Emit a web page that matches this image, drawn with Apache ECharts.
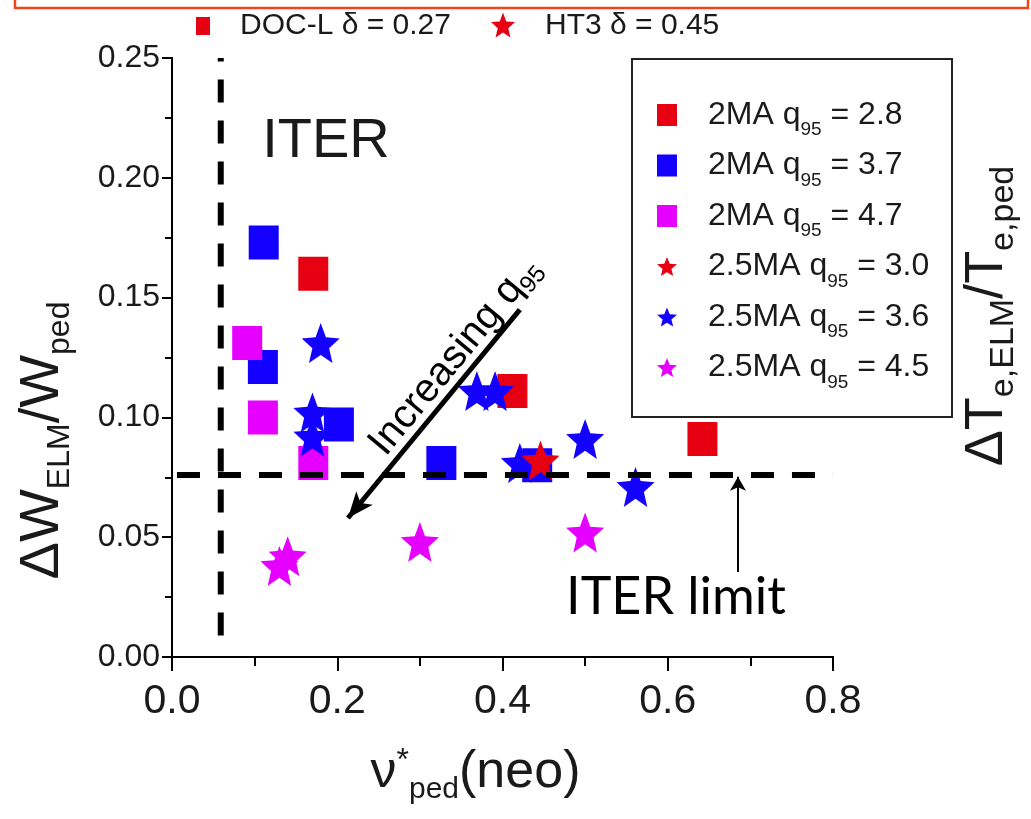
<!DOCTYPE html>
<html>
<head>
<meta charset="utf-8">
<script src="https://cdn.jsdelivr.net/npm/echarts@6/dist/echarts.min.js"></script>
<style>
  html, body { margin: 0; padding: 0; background: #fff; }
  #chart { width: 1031px; height: 819px; }
</style>
</head>
<body>
<div id="chart"></div>
<script>
// ELM energy loss vs pedestal collisionality, grouped by plasma current and q95
const seriesNames = ['2MA q95 = 2.8', '2MA q95 = 3.7', '2MA q95 = 4.7',
                     '2.5MA q95 = 3.0', '2.5MA q95 = 3.6', '2.5MA q95 = 4.5'];
const legendPrefix = ['2MA q', '2MA q', '2MA q', '2.5MA q', '2.5MA q', '2.5MA q'];
const legendValue = ['2.8', '3.7', '4.7', '3.0', '3.6', '4.5'];
const seriesColors = ['#e60012', '#1400ff', '#e600ff', '#e60012', '#1400ff', '#e600ff'];

// [nu*_ped(neo), dW_ELM/W_ped]
const ma2q28 = [[0.171, 0.160], [0.412, 0.111], [0.642, 0.091]];
const ma2q37 = [[0.111, 0.173], [0.110, 0.121], [0.202, 0.097], [0.326, 0.081], [0.442, 0.080]];
const ma2q47 = [[0.091, 0.131], [0.110, 0.100], [0.171, 0.081]];
const ma25q30 = [[0.446, 0.082]];
const ma25q36 = [[0.180, 0.131], [0.170, 0.102], [0.170, 0.092], [0.369, 0.111], [0.391, 0.111],
                 [0.421, 0.081], [0.500, 0.091], [0.561, 0.071]];
const ma25q45 = [[0.130, 0.038], [0.140, 0.042], [0.300, 0.048], [0.500, 0.052]];
const seriesData = [ma2q28, ma2q37, ma2q47, ma25q30, ma25q36, ma25q45];

// ITER limits
const nuLimit = 0.059;
const elmLimit = 0.076;
const nuLimitLine = [[nuLimit, 0.009], [nuLimit, 0.25]];
const elmLimitLine = [[0.006, elmLimit], [0.8, elmLimit]];
// "Increasing q95" arrow and ITER-limit pointer
const q95Arrow = [[0.421, 0.145], [0.213, 0.058]];
const limitPointer = [[0.685, 0.0355], [0.685, 0.0752]];

const xTicks = { min: 0, max: 0.8, step: 0.2 };
const yTicks = { min: 0, max: 0.25, step: 0.05 };

const FONT = "'Liberation Sans', Arial, sans-serif";
const TEXT = '#1a1a1a';

// five-point star outline in a 100x90 box
const STAR_PTS = [[50, 0], [62.93, 32.2], [97.55, 34.55], [70.92, 56.8], [79.39, 90.45],
                  [50, 72], [20.61, 90.45], [29.08, 56.8], [2.45, 34.55], [37.07, 32.2]];
const STAR = 'path://M' + STAR_PTS.map(p => p.join(',')).join('L') + 'Z';
function starAt(cx, cy, w, h) {
  return STAR_PTS.map(p => [cx + (p[0] - 50) / 95.1 * w, cy + (p[1] - 45.2) / 90.45 * h]);
}

const chart = echarts.init(document.getElementById('chart'), null, { renderer: 'canvas' });

const pointSeries = seriesNames.map((name, i) => {
  const isStar = i >= 3;
  return {
    name: name,
    type: 'scatter',
    xAxisIndex: 0,
    yAxisIndex: 0,
    data: seriesData[i],
    symbol: isStar ? STAR : 'rect',
    symbolSize: isStar ? [38, 40] : [30, 34],
    legendIcon: isStar ? STAR : 'rect',
    itemStyle: { color: seriesColors[i], opacity: 1 },
    z: isStar ? (i === 3 ? 5 : 4) : 3,
    emphasis: { disabled: true },
    silent: true
  };
});

const dashStyle = { color: '#000', width: 6, type: [23, 18] };

const option = {
  animation: false,
  backgroundColor: '#fff',
  grid: { left: 172, right: 198, top: 58, bottom: 162, containLabel: false, outerBoundsMode: 'none' },
  xAxis: [{
    type: 'value',
    position: 'bottom',
    min: xTicks.min, max: xTicks.max, interval: xTicks.step,
    axisLine: { show: true, lineStyle: { color: '#000', width: 2 } },
    axisTick: { show: true, inside: false, length: 14, lineStyle: { color: '#000', width: 2 } },
    minorTick: { show: true, splitNumber: 2, length: 9, lineStyle: { color: '#000', width: 2 } },
    splitLine: { show: false },
    axisLabel: { fontSize: 41, fontFamily: FONT, color: TEXT, margin: 24,
                 formatter: v => v.toFixed(1) },
    name: '{n|ν}{sup|*}{sub|ped}{n|(neo)}',
    nameLocation: 'middle',
    nameGap: 84,
    nameTextStyle: {
      padding: [0, 54, 0, 0],
      rich: {
        n: { fontSize: 52, fontFamily: FONT, color: TEXT },
        sup: { fontSize: 32, fontFamily: FONT, color: TEXT, padding: [0, 0, 24, 0] },
        sub: { fontSize: 30, fontFamily: FONT, color: TEXT, padding: [34, 0, 0, 0] }
      }
    }
  }, {
    type: 'value',
    position: 'top',
    min: xTicks.min, max: xTicks.max, interval: xTicks.step,
    axisLine: { show: true, lineStyle: { color: '#000', width: 2 } },
    axisTick: { show: false },
    axisLabel: { show: false },
    splitLine: { show: false }
  }],
  yAxis: [{
    type: 'value',
    position: 'left',
    min: yTicks.min, max: yTicks.max, interval: yTicks.step,
    axisLine: { show: true, lineStyle: { color: '#000', width: 2 } },
    axisTick: { show: true, inside: false, length: 10, lineStyle: { color: '#000', width: 2 } },
    minorTick: { show: true, splitNumber: 2, length: 7, lineStyle: { color: '#000', width: 2 } },
    splitLine: { show: false },
    axisLabel: { fontSize: 32, fontFamily: FONT, color: TEXT, margin: 12,
                 formatter: v => v.toFixed(2) },
    name: '{n|ΔW}{sub|ELM}{n|/W}{sub|ped}',
    nameLocation: 'middle',
    nameRotate: 90,
    nameGap: 96,
    nameTextStyle: {
      padding: [0, 166, 0, 0],
      rich: {
        n: { fontSize: 56, fontFamily: FONT, color: TEXT },
        sub: { fontSize: 32, fontFamily: FONT, color: TEXT, padding: [34, 0, 0, 0] }
      }
    }
  }, {
    type: 'value',
    position: 'right',
    min: yTicks.min, max: yTicks.max, interval: yTicks.step,
    axisLine: { show: true, lineStyle: { color: '#000', width: 2 } },
    axisTick: { show: true, inside: true, length: 10, lineStyle: { color: '#000', width: 2 } },
    minorTick: { show: true, splitNumber: 2, length: 7, lineStyle: { color: '#000', width: 2 } },
    splitLine: { show: false },
    axisLabel: { show: false },
    name: '{n|ΔT}{sub|e,ELM}{n|/T}{sub|e,ped}',
    nameLocation: 'middle',
    nameRotate: 90,
    nameGap: 120,
    nameTextStyle: {
      padding: [0, 0, 0, 83],
      rich: {
        n: { fontSize: 54, fontFamily: FONT, color: TEXT },
        sub: { fontSize: 34, fontFamily: FONT, color: TEXT, padding: [34, 0, 0, 0] }
      }
    }
  }],
  legend: {
    data: seriesNames,
    orient: 'vertical',
    left: 657,
    top: 99,
    padding: 0,
    itemGap: 10,
    itemWidth: 20,
    itemHeight: 22,
    selectedMode: false,
    formatter: name => {
      const i = seriesNames.indexOf(name);
      return '{t|' + legendPrefix[i] + '}{s|95}{t| = ' + legendValue[i] + '}';
    },
    textStyle: {
      padding: [0, 0, 0, 26],
      rich: {
        t: { fontSize: 32, fontFamily: FONT, color: TEXT, lineHeight: 40 },
        s: { fontSize: 19, fontFamily: FONT, color: TEXT, padding: [30, 0, 0, 0] }
      }
    }
  },
  series: pointSeries.concat([{
    type: 'line',
    xAxisIndex: 0, yAxisIndex: 0,
    data: nuLimitLine,
    symbol: 'none',
    lineStyle: dashStyle,
    z: 6,
    silent: true
  }, {
    type: 'line',
    xAxisIndex: 0, yAxisIndex: 0,
    data: elmLimitLine,
    symbol: 'none',
    lineStyle: dashStyle,
    z: 6,
    silent: true,
    markLine: {
      silent: true,
      label: { show: false },
      emphasis: { disabled: true },
      data: [
        [{ coord: q95Arrow[0], symbol: 'none', lineStyle: { color: '#000', width: 5, type: 'solid' } },
         { coord: q95Arrow[1], symbol: 'arrow', symbolSize: [16, 26] }],
        [{ coord: limitPointer[0], symbol: 'none', lineStyle: { color: '#000', width: 2, type: 'solid' } },
         { coord: limitPointer[1], symbol: 'arrow', symbolSize: [12, 14] }]
      ]
    }
  }]),
  graphic: [
    // frame strip along the top edge
    { type: 'polyline', shape: { points: [[15, 0], [15, 8], [1028, 8], [1028, 0]] },
      style: { stroke: '#f0441c', lineWidth: 2.5, fill: null } },
    // shape key above the plot
    { type: 'rect', shape: { x: 196, y: 17, width: 14, height: 18 }, style: { fill: '#e60012' } },
    { type: 'text', x: 240, y: 26,
      style: { text: 'DOC-L δ = 0.27', font: '30px ' + FONT, fill: TEXT, verticalAlign: 'middle' } },
    { type: 'polygon', shape: { points: starAt(503, 25, 24, 25) }, style: { fill: '#e60012' } },
    { type: 'text', x: 545, y: 26,
      style: { text: 'HT3 δ = 0.45', font: '30px ' + FONT, fill: TEXT, verticalAlign: 'middle' } },
    // legend frame
    { type: 'rect', shape: { x: 632, y: 59, width: 320, height: 358 },
      style: { fill: null, stroke: '#222', lineWidth: 2 }, z: 10 },
    // annotations
    { type: 'text', x: 326, y: 142, z: 10,
      style: { text: 'ITER', font: '56px ' + FONT, fill: TEXT, align: 'center', verticalAlign: 'middle' } },
    { type: 'text', x: 676, y: 597, z: 10,
      style: { text: 'ITER limit', font: '52px Lato, "Open Sans", sans-serif', fill: '#000',
               align: 'center', verticalAlign: 'middle' } },
    { type: 'text', x: 455, y: 356, rotation: 50.4 * Math.PI / 180, z: 10,
      style: { text: '{t|Increasing q}{s|95}', align: 'center', verticalAlign: 'middle',
               rich: {
                 t: { fontSize: 40, fontFamily: FONT, color: TEXT },
                 s: { fontSize: 24, fontFamily: FONT, color: TEXT, padding: [24, 0, 0, 0] }
               } } }
  ]
};

chart.setOption(option);
</script>
</body>
</html>
